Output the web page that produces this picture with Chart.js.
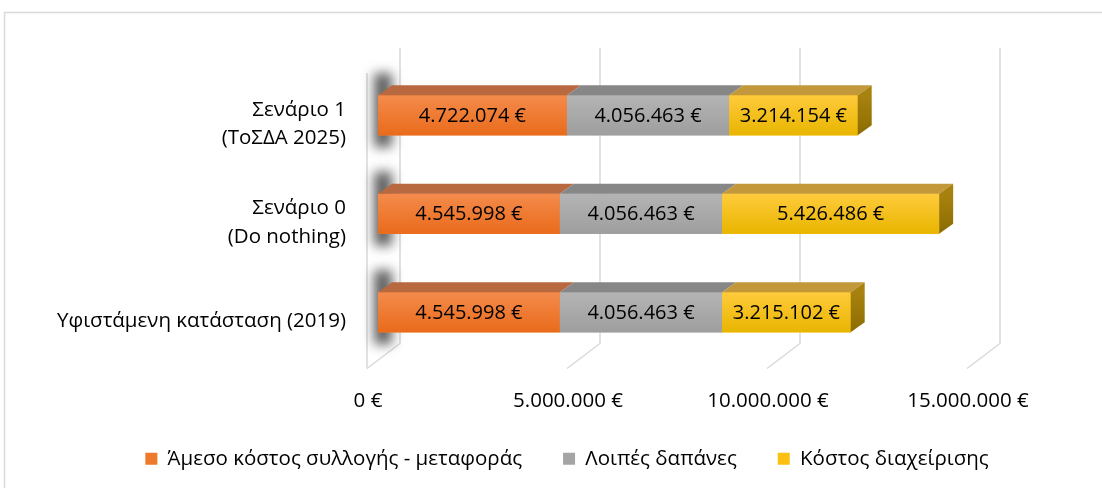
<!DOCTYPE html>
<html lang="el">

<head>
    <meta charset="UTF-8">
    <title>Κόστος σεναρίων</title>
    <style>
        html, body {
            margin: 0;
            padding: 0;
            background: #ffffff;
        }

        #wrap {
            width: 1102px;
            height: 488px;
        }
    </style>
</head>

<body>
    <div id="wrap"><canvas id="chart" width="1102" height="488"></canvas></div>

    <script src="https://cdn.jsdelivr.net/npm/chart.js"></script>

    <script>
        // values
        const categories = [
            ['Σενάριο 1', '(ΤοΣΔΑ 2025)'],
            ['Σενάριο 0', '(Do nothing)'],
            'Υφιστάμενη κατάσταση (2019)'
        ];
        const directCost = [4722074, 4545998, 4545998];
        const otherCost = [4056463, 4056463, 4056463];
        const mgmtCost = [3214154, 5426486, 3215102];
        const seriesNames = ['Άμεσο κόστος συλλογής - μεταφοράς', 'Λοιπές δαπάνες', 'Κόστος διαχείρισης'];
        const xTicks = [0, 5000000, 10000000, 15000000];

        // styling for each series: front face gradient, top face, side face
        const faces = [
            { front: ['#f48b4c', '#e96b1b'], top: '#b8693f', side: ['#a5501c', '#8f4515'], legend: '#ee7a2e' },
            { front: ['#b4b4b4', '#9e9e9e'], top: '#878787', side: ['#7a7a7a', '#6a6a6a'], legend: '#a5a5a5' },
            { front: ['#ffcb3c', '#e8b500'], top: '#c2983a', side: ['#a8820f', '#8c6c00'], legend: '#fcc010' }
        ];

        const DEPTH_X = 14, DEPTH_Y = -10;
        const FONT = "'Open Sans', 'Noto Sans', sans-serif";

        Chart.defaults.font.family = FONT;
        Chart.defaults.font.size = 20.5;
        Chart.defaults.color = '#000000';

        function euro(v) {
            return String(Math.round(v)).replace(/\B(?=(\d{3})+(?!\d))/g, '.') + ' €';
        }

        const bar3d = {
            id: 'bar3d',
            beforeDraw(chart) {
                const ctx = chart.ctx;
                ctx.save();
                ctx.fillStyle = '#ffffff';
                ctx.fillRect(0, 0, chart.width, chart.height);
                ctx.strokeStyle = '#d9d9d9';
                ctx.lineWidth = 1.5;
                ctx.strokeRect(4.5, 12.5, chart.width + 20, chart.height + 20);
                ctx.restore();
            },
            beforeDatasetsDraw(chart) {
                const ctx = chart.ctx;
                const area = chart.chartArea;
                const xs = chart.scales.x;
                ctx.save();
                ctx.strokeStyle = '#d9d9d9';
                ctx.lineWidth = 1.5;
                // back wall gridlines running into the floor
                xTicks.forEach(v => {
                    const px = xs.getPixelForValue(v);
                    ctx.beginPath();
                    ctx.moveTo(px + 22, area.top - 18);
                    ctx.lineTo(px + 22, area.bottom - 18);
                    ctx.lineTo(px - 11, area.bottom + 7);
                    ctx.stroke();
                });
                // front edge of the left wall
                const x0 = xs.getPixelForValue(0);
                ctx.beginPath();
                ctx.moveTo(x0 - 11, area.top + 7);
                ctx.lineTo(x0 - 11, area.bottom + 7);
                ctx.stroke();

                // shadow each bar throws on the left wall
                const meta = chart.getDatasetMeta(0);
                ctx.filter = 'blur(6px)';
                ctx.fillStyle = 'rgba(40,40,40,0.75)';
                meta.data.forEach(bar => {
                    const p = bar.getProps(['y', 'height'], true);
                    const top = p.y - p.height / 2;
                    ctx.fillRect(x0 - 4, top - 22, 18, p.height + 34);
                });
                ctx.filter = 'none';
                ctx.restore();
            },
            afterDatasetsDraw(chart) {
                const ctx = chart.ctx;
                const last = chart.data.datasets.length - 1;
                ctx.save();
                chart.data.datasets.forEach((ds, i) => {
                    const meta = chart.getDatasetMeta(i);
                    const f = faces[i];
                    meta.data.forEach((bar, j) => {
                        const p = bar.getProps(['x', 'y', 'base', 'height'], true);
                        const left = Math.min(p.base, p.x);
                        const right = Math.max(p.base, p.x);
                        const top = p.y - p.height / 2;
                        const bottom = p.y + p.height / 2;

                        // front face
                        const g = ctx.createLinearGradient(0, top, 0, bottom);
                        g.addColorStop(0, f.front[0]);
                        g.addColorStop(1, f.front[1]);
                        ctx.fillStyle = g;
                        ctx.fillRect(left, top, right - left, bottom - top);

                        // top face
                        ctx.fillStyle = f.top;
                        ctx.beginPath();
                        ctx.moveTo(left, top);
                        ctx.lineTo(left + DEPTH_X, top + DEPTH_Y);
                        ctx.lineTo(right + DEPTH_X, top + DEPTH_Y);
                        ctx.lineTo(right, top);
                        ctx.closePath();
                        ctx.fill();

                        // side face on the outer end
                        if (i === last) {
                            const sg = ctx.createLinearGradient(0, top, 0, bottom);
                            sg.addColorStop(0, f.side[0]);
                            sg.addColorStop(1, f.side[1]);
                            ctx.fillStyle = sg;
                            ctx.beginPath();
                            ctx.moveTo(right, top);
                            ctx.lineTo(right + DEPTH_X, top + DEPTH_Y);
                            ctx.lineTo(right + DEPTH_X, bottom + DEPTH_Y);
                            ctx.lineTo(right, bottom);
                            ctx.closePath();
                            ctx.fill();
                        }

                        // value label
                        ctx.fillStyle = '#000000';
                        ctx.font = '20px ' + FONT;
                        ctx.textAlign = 'center';
                        ctx.textBaseline = 'middle';
                        ctx.fillText(euro(ds.data[j]), (left + right) / 2, p.y + 1);
                    });
                });
                ctx.restore();
            }
        };

        new Chart(document.getElementById('chart'), {
            type: 'bar',
            data: {
                labels: categories,
                datasets: [
                    { label: seriesNames[0], data: directCost, backgroundColor: faces[0].legend },
                    { label: seriesNames[1], data: otherCost, backgroundColor: faces[1].legend },
                    { label: seriesNames[2], data: mgmtCost, backgroundColor: faces[2].legend }
                ]
            },
            options: {
                indexAxis: 'y',
                responsive: false,
                animation: false,
                barThickness: 40,
                layout: {
                    padding: { top: 66, right: 0, bottom: 9, left: 32 }
                },
                scales: {
                    x: {
                        stacked: true,
                        min: 0,
                        max: 15000000,
                        grid: { display: false, drawTicks: false },
                        border: { display: false },
                        afterBuildTicks: scale => {
                            scale.ticks = xTicks.map(v => ({ value: v }));
                        },
                        afterFit: scale => {
                            scale.height = 46;
                        },
                        ticks: {
                            padding: 27,
                            labelOffset: -10,
                            maxRotation: 0,
                            callback: v => euro(v)
                        }
                    },
                    y: {
                        stacked: true,
                        grid: { display: false, drawTicks: false },
                        border: { display: false },
                        afterFit: scale => {
                            scale.width = 346;
                        },
                        ticks: {
                            padding: 32,
                            labelOffset: 9,
                            font: { lineHeight: 1.4 }
                        }
                    },
                    // empty strip on the right, keeps the plot narrower than the legend
                    yPad: {
                        type: 'category',
                        position: 'right',
                        grid: { display: false, drawTicks: false },
                        border: { display: false },
                        ticks: { display: false },
                        afterFit: scale => {
                            scale.width = 124;
                        }
                    }
                },
                plugins: {
                    legend: {
                        position: 'bottom',
                        labels: {
                            boxWidth: 12,
                            boxHeight: 12,
                            padding: 41,
                            generateLabels: chart => chart.data.datasets.map((ds, i) => ({
                                text: ds.label,
                                fillStyle: faces[i].legend,
                                strokeStyle: faces[i].legend,
                                lineWidth: 0,
                                hidden: false,
                                datasetIndex: i
                            }))
                        }
                    },
                    tooltip: { enabled: false }
                }
            },
            plugins: [bar3d]
        });
    </script>
</body>

</html>
